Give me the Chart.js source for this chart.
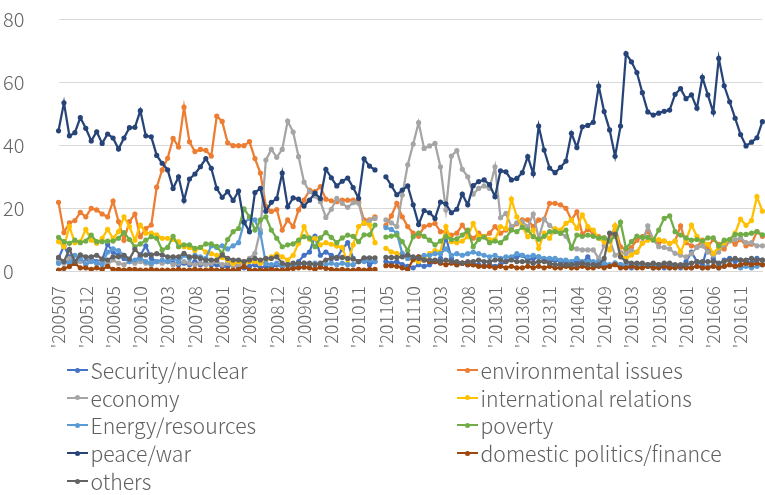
<!DOCTYPE html>
<html>
<head>
<meta charset="utf-8">
<script src="https://cdn.jsdelivr.net/npm/chart.js@4"></script>
<style>
  html, body { margin: 0; padding: 0; background: #fff; }
  #wrap { position: relative; width: 765px; height: 495px; overflow: hidden; }
  #chart { position: absolute; left: 0; top: 0; }
  .leg { position: absolute; display: flex; align-items: center; font-family: "Noto Sans CJK JP", "Noto Sans", sans-serif; font-weight: 300; font-size: 21.2px; color: #606060; white-space: nowrap; line-height: 1; height: 24px; }
  .mk { position: relative; width: 21px; height: 12px; margin-right: 2.5px; }
  .mk .ln { position: absolute; left: 0; right: 0; top: 5px; height: 2.25px; }
  .mk .dt { position: absolute; left: 8px; top: 3.6px; width: 5px; height: 5px; border-radius: 50%; }
</style>
</head>
<body>
<div id="wrap">
  <canvas id="chart" width="765" height="360"></canvas>
  <div id="legend"></div>
</div>
<script>
const categories = [
  "200507","200508","200509","200510","200511","200512","200601","200602","200603","200604",
  "200605","200606","200607","200608","200609","200610","200611","200612","200701","200702",
  "200703","200704","200705","200706","200707","200708","200709","200710","200711","200712",
  "200801","200802","200803","200804","200806","200807","200808","200809","200810","200811",
  "200812","200901","200902","200903","200905","200906","200908","200910","200912","201002",
  "201005","201006","201007","201008","201010","201011","201012","201101","201102","201103",
  "201105","201106","201107","201108","201109","201110","201111","201112","201201","201202",
  "201203","201204","201205","201206","201207","201208","201209","201210","201211","201212",
  "201301","201302","201303","201304","201305","201306","201307","201308","201309","201310",
  "201311","201312","201401","201402","201403","201404","201405","201406","201407","201408",
  "201409","201410","201411","201412","201502","201503","201504","201505","201506","201507",
  "201508","201509","201510","201511","201512","201601","201602","201603","201604","201605",
  "201606","201607","201608","201609","201610","201611","201612","201701","201702","201703"
];

const securityNuclear = [
  4,8,4.5,3,3.5,3,4,3,3.5,8.5,
  6,5,4,3,3,5,8,4,3,3,
  3,2.5,2,2.5,2,3,2,2.5,2,2,
  1.5,1.5,2,1.5,1,1.5,2,1,1.5,1,
  2,1.5,2,1,3,5,6,11,5,6,
  5,4,7,9,4,3,4,2,3,null,
  3,2.5,3,2,1.5,1,2,1.5,2,3,
  4,10.9,4,2,2.5,2,2,2,1.5,2,
  1.5,2,3,4,4.5,5,3.5,4,4.5,3.5,
  3,3.5,3,3,2.5,3,2.5,4.5,2,2,
  2,1.5,2.5,2,1.5,1,2,1.5,1.5,1,
  1.5,1,2,1.5,1,3,6,3,2,8,
  4,2,3.5,4,3,3.5,3,2.5,4,3.5
];

const environmentalIssues = [
  21.8,12.2,15.3,16.0,18.6,17.2,19.9,19.4,18.1,17.2,
  22.2,15.7,9.8,15.7,18.1,10.9,13.5,14.6,26.6,32.1,
  35.8,42.1,39.4,52.0,41.0,37.9,38.6,38.3,36.5,49.2,
  47.5,40.7,39.8,39.8,39.8,41.1,35.7,31.1,20.5,18.9,
  19.5,13.0,16.2,14.1,19.4,22.5,25.7,25.2,26.8,22.8,
  22.3,22.0,22.5,22.5,22.5,22.0,16.2,16.2,17.2,null,
  14.5,17.5,21.5,17.2,14.1,12.0,11.0,14.1,14.6,15.1,
  12.5,12.5,11.4,12.0,14.6,12.0,10.4,12.0,10.9,12.0,
  14.1,12.0,13.0,13.5,15.0,16.2,16.2,14.1,16.2,16.5,
  21.5,21.5,21.0,19.9,16.2,18.8,11.7,13.2,12.0,10.9,
  10.5,9.5,14.3,7.7,6.7,7.4,9.8,10.9,12.5,10.0,
  9.0,9.5,8.8,9.5,14.3,9.0,8.0,7.7,9.8,7.7,
  10.0,8.5,7.0,9.8,8.5,10.0,8.0,8.5,12.5,11.0
];

const economy = [
  3.0,2.5,4.0,2.5,3.0,2.5,3.5,2.5,3.0,2.0,
  3.5,2.5,2.0,3.0,2.5,3.0,2.5,2.0,3.0,2.5,
  3.0,2.0,2.5,3.0,2.5,2.0,2.5,2.0,2.5,3.0,
  2.0,2.5,1.5,2.0,3.0,4.0,5.6,13.0,35.2,38.6,
  36.1,38.6,47.6,44.1,36.3,28.2,25.2,23.8,22.0,17.0,
  19.6,23.1,21.5,20.2,21.7,21.5,15.1,16.0,16.7,null,
  16.2,15.3,14.1,24.1,33.7,40.3,47.1,38.9,39.7,40.5,
  33.1,19.4,36.5,38.2,32.3,29.9,24.4,26.2,27.0,26.2,
  33.1,16.9,18.3,14.1,15.3,15.7,14.0,18.1,10.4,16.4,
  14.5,13.0,12.0,11.0,7.7,7.0,6.7,6.7,6.7,4.0,
  8.0,10.0,5.0,6.0,5.5,6.5,6.0,9.0,14.3,10.0,
  7.7,7.5,7.0,5.6,5.0,4.5,5.5,7.5,8.0,6.0,
  5.0,6.0,8.5,9.5,10.0,10.5,9.0,9.0,8.0,8.0
];

const internationalRelations = [
  9.3,7.7,14.1,9.0,9.3,13.2,9.8,8.8,10.4,13.2,
  10.4,12.5,17.2,14.1,9.8,14.6,12.0,12.0,11.5,10.4,
  10.4,10.0,9.3,7.7,7.5,6.5,7.5,6.0,5.5,5.0,
  4.3,3.5,2.4,3.0,2.5,3.0,3.0,2.5,3.0,4.5,
  5.4,4.5,3.5,5.0,8.8,14.1,10.1,10.4,8.3,9.0,
  8.5,7.9,7.5,2.4,8.3,14.1,15.3,14.6,9.0,null,
  7.2,6.1,5.6,5.0,4.0,3.5,3.0,4.0,5.5,6.5,
  6.0,14.1,9.3,9.0,9.5,10.9,15.1,11.0,11.0,10.0,
  10.0,14.1,13.5,22.8,17.2,14.1,10.9,13.0,7.2,12.0,
  10.4,13.5,13.0,15.1,16.2,13.5,17.8,14.1,13.0,10.4,
  9.3,6.7,14.3,5.0,4.0,5.1,6.0,8.8,9.8,10.0,
  10.0,9.5,8.8,9.5,6.1,9.8,14.6,11.0,9.5,8.5,
  5.6,7.5,9.0,10.0,12.0,16.5,14.5,16.0,23.6,19.0
];

const energyResources = [
  2.4,3,2.5,5,4,2,3,2.5,2,6,
  7,6.5,5,3,3.5,4,3,2.5,3,3.5,
  3,4,3,5,4,5,4.5,4,8,7.5,
  8,7,8,9,15.3,16.7,16.2,12,2.4,2,
  2.5,1.5,2,1.5,2,2.5,2,2.5,2,2,
  2.5,2,2.5,2,2,3,3,3.5,3,null,
  13.8,13.2,12.0,5.6,4,4,4.5,5,5,5.5,
  5.5,7,5,5.5,5,5.5,6,5.5,5,4.5,
  5,4,4.5,4.5,5.5,5,4.5,5,4.5,4,
  4,4,3.5,3.5,3,4,3,3,3,3,
  2.5,2,2.5,2,2,1.5,2,1.5,2,1.5,
  2,1.5,1,1.5,1.5,1.5,1,1.5,1,1.5,
  1.5,1,1.5,2,1.5,1,1.5,1,1.5,2
];

const poverty = [
  10.7,9.3,8.8,9.8,9.0,9.5,11.4,9.3,9.3,9.5,
  9.5,10.4,12.2,10.0,7.7,8.6,9.8,10.9,10.4,6.7,
  7.5,11.0,7.7,8.3,8.3,7.2,7.5,8.6,8.6,7.8,
  5.6,10.0,12.5,13.5,19.7,17.2,13.0,16.2,17.2,13.0,
  10.4,7.7,8.3,8.6,9.8,10.9,10.5,7.7,10.5,12.2,
  10.7,9.0,10.5,11.4,11.0,9.3,11.5,11.5,14.6,null,
  10.8,11.1,11.4,9.3,6.5,10.9,12.0,11.0,9.8,8.3,
  9.5,10.9,10.0,10.2,11.4,13.0,7.7,10.0,10.8,9.0,
  9.5,9.0,10.5,13.0,12.5,13.9,13.0,10.9,10.1,11.0,
  12.5,12.5,12.0,13.0,7.2,11.4,11.0,11.4,11.0,10.5,
  10.5,9.5,11.0,15.5,7.2,9.3,11.1,10.7,10.7,9.8,
  13.0,16.7,17.5,12.5,11.4,10.5,9.8,10.0,9.5,10.5,
  10.5,7.9,9.8,10.0,11.6,11.6,11.6,12.0,12.5,11.5
];

const peaceWar = [
  44.5,53.4,42.9,43.9,48.7,45.3,41.3,44.2,40.5,43.5,
  42.2,38.7,42.2,45.5,45.6,50.9,42.9,42.6,36.7,34.2,
  32.1,26.2,29.9,22.4,29.2,30.8,33.1,35.7,32.6,26.2,
  23.4,25.2,22.4,25.4,15.5,12.5,24.9,26.2,19.0,21.8,
  23.0,31.1,20.4,23.2,22.8,20.6,22.5,24.7,23.0,32.3,
  29.6,27.0,28.5,29.5,26.5,23.1,35.6,33.3,32.1,null,
  29.9,27.1,24.2,25.7,27.0,21.0,14.8,19.2,18.5,16.7,
  21.9,21.3,18.5,19.6,24.4,21.0,27.1,28.4,28.9,27.4,
  23.6,31.8,31.5,28.9,29.4,31.2,36.3,30.9,46.0,38.4,
  32.7,31.2,32.9,34.9,43.7,39.2,45.8,46.2,47.2,58.7,
  50.6,44.8,36.4,46.0,69.0,66.4,63.0,56.6,50.5,49.5,
  50.1,50.7,51.1,56.1,57.9,54.7,55.9,51.7,61.5,55.9,
  50.4,67.5,58.8,53.7,48.5,43.3,39.7,40.9,42.3,47.4
];

const domesticPolitics = [
  0.3,0.8,1.4,2.4,1,1,0.5,1,0.5,1.5,
  0.5,0.5,0.3,0.5,0.5,0.3,0.3,0.5,0.3,0.3,
  0.3,0.3,0.5,0.3,0.3,0.5,0.3,0.3,0.5,0.3,
  0.3,0.3,0.3,0.5,1.5,0.3,0.3,0.3,0.3,0.5,
  0.3,0.3,0.5,0.8,1,1.2,1,0.5,1.2,0.8,
  0.5,0.3,0.5,0.3,0.3,0.5,0.3,0.5,0.5,null,
  1.7,1.7,1.5,1.0,0.5,3.7,4.5,3.5,3,3,
  2.5,2,2.5,2,2.5,2,2,1.5,1.5,1.5,
  1,1.5,1,1.5,1,1,1.5,1,1.5,1,
  1.5,1,1,1.5,1,1,1.5,1,1,1.5,
  1,1.5,2,1,1,1.5,1,1,1.5,1,
  1,1.5,1,1,1.5,1,1,1.5,1,1,
  1.5,1,1.5,2,1.5,2,2.5,2,2.5,2
];

const others = [
  4.3,3.0,6.9,3.0,5.1,4.5,4.5,5.0,3.8,3.5,
  4.5,4.5,5.0,3.8,6.9,5.1,5.1,5.1,5.5,5.1,
  4.5,4.5,4.5,5.6,4.5,4.5,4,3.5,3.5,3.5,
  5.1,4,3.5,3.5,3,3.5,4,3.5,4,4,
  4.5,2.5,2,2.5,2.5,2.5,2.5,2,2.5,3.5,
  4,4.3,4.3,4,3.8,3,4.2,4.2,4.2,null,
  4.3,4.3,4.3,4.5,5.1,4.5,4,3.5,3.5,3.5,
  3,3.5,3,3,2.5,3,3,3.5,3,3,
  3.5,3.5,3,3.5,3,3,3,2.5,3,3,
  2.5,2,2,2,2,2,2.5,2,2,2,
  4,12,11.7,4.5,3,2.5,2.5,2.5,2,2.5,
  2,2.5,2.5,2,2,2,2.5,3,3,3,
  3,2.5,3,3.5,4,3.5,3.5,4,3.5,3.5
];

const seriesNames = ["Security/nuclear","environmental issues","economy","international relations","Energy/resources","poverty","peace/war","domestic politics/finance","others"];
const seriesColors = ["#4472C4","#ED7D31","#A5A5A5","#FFC000","#5B9BD5","#70AD47","#264478","#9E480E","#636363"];
const seriesData = [securityNuclear, environmentalIssues, economy, internationalRelations, energyResources, poverty, peaceWar, domesticPolitics, others];
const yTicks = [0, 20, 40, 60, 80];

const datasets = seriesData.map((d, i) => ({
  label: seriesNames[i],
  data: d,
  borderColor: seriesColors[i],
  backgroundColor: seriesColors[i],
  borderWidth: 2.25,
  pointRadius: 2.6,
  pointBorderWidth: 0,
  pointHoverRadius: 2.6,
  tension: 0,
  spanGaps: false,
  order: seriesData.length - i
}));

const tickFont = '"Noto Sans CJK JP", "Noto Sans", sans-serif';

new Chart(document.getElementById('chart'), {
  type: 'line',
  data: { labels: categories, datasets },
  options: {
    responsive: false,
    animation: false,
    devicePixelRatio: 1,
    layout: { padding: { left: 3, right: 0, top: 19, bottom: 0 } },
    plugins: { legend: { display: false }, tooltip: { enabled: false } },
    scales: {
      x: {
        offset: false,
        grid: { display: false, drawTicks: false },
        border: { display: true, color: '#D9D9D9', width: 1 },
        ticks: {
          autoSkip: false, minRotation: 90, maxRotation: 90, padding: 15,
          color: '#666666',
          font: { family: tickFont, size: 18, weight: '300' },
          callback: function(v, idx) { return idx % 5 === 0 ? "'" + categories[idx] : ''; }
        },
        afterFit: s => { s.height = 89; s.paddingLeft = 0; s.paddingRight = 0; }
      },
      y: {
        min: 0, max: 80,
        afterBuildTicks: s => { s.ticks = yTicks.map(v => ({ value: v })); },
        grid: { color: '#D9D9D9', lineWidth: 1, drawTicks: false },
        border: { display: false },
        ticks: {
          crossAlign: 'far', padding: 0,
          color: '#666666',
          font: { family: tickFont, size: 20, weight: '300' }
        },
        afterFit: s => { s.width = 55.5; s.paddingTop = 0; s.paddingBottom = 0; }
      }
    }
  }
});

// HTML legend (two columns)
const legend = document.getElementById('legend');
const colX = [67, 457];
const rowY = [372, 399.5, 427, 455, 483];
seriesNames.forEach((name, i) => {
  const el = document.createElement('div');
  el.className = 'leg';
  el.style.left = colX[i % 2] + 'px';
  el.style.top = (rowY[Math.floor(i / 2)] - 14) + 'px';
  el.innerHTML = '<span class="mk"><span class="ln" style="background:' + seriesColors[i] + '"></span><span class="dt" style="background:' + seriesColors[i] + '"></span></span><span>' + name + '</span>';
  legend.appendChild(el);
});
</script>
</body>
</html>
